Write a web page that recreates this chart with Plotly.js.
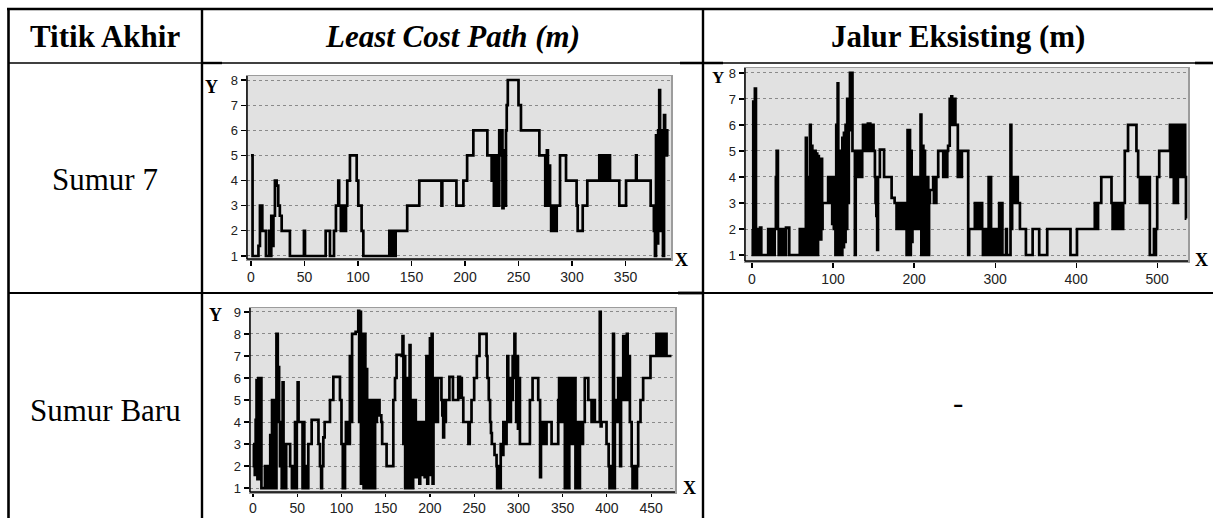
<!DOCTYPE html>
<html><head><meta charset="utf-8">
<script src="https://cdn.plot.ly/plotly-3.0.1.min.js"></script>
<style>html,body{margin:0;padding:0;background:#fff}#chart{width:1213px;height:518px}</style>
</head><body><div id="chart"></div>
<script>
// ---------- data (x = step position, y = value) ----------
const lcp7 = [[0,5],[1.5,1],[7,1.4],[8.4,3],[10.6,2],[14,1],[17,2],[18,1],[19,2.6],[20,1.4],[21,2.6],[22.4,4],[24,3.8],[25.5,3],[27,2.6],[28.7,2],[36.4,1],[49.5,2],[50.5,1],[69.8,2],[73.8,1],[77.6,2],[79.4,3],[81.6,4],[82.4,3],[84,2],[85,3],[86,2],[87,3],[88,2],[88.8,3],[90,4],[92.5,5],[98.8,4],[100.3,3],[103.4,2],[105,1],[129.3,2],[130,1],[131,2],[132,1],[133,2],[134,1],[135.2,2],[146,3],[157.3,4],[178,3],[178.8,4],[192,3],[198.5,4],[202,5],[207.8,6],[220.9,5],[224.9,4],[226,5],[227,3],[228,5],[229,3],[230,5],[231,3],[232,6],[233,5],[234.3,6],[235,2.9],[236,5.2],[237,3],[238.3,6],[239,7],[240,8],[250,7],[252.3,6],[269.5,5],[275,3],[276.5,5.2],[277.5,3],[278.5,4.6],[279.5,3],[280.5,2],[281.5,3],[282.5,2],[283.5,3],[284.5,2],[285.7,3],[288.8,5],[294.4,4],[304.3,3],[305.3,2],[310,3],[314.3,4],[325.5,5],[327,4],[328.5,5],[330,4],[331.5,5],[333,4],[334.5,5],[335.5,4],[344.2,3],[350.5,4],[359.8,5],[360.4,4],[373.5,3],[376.5,2],[377.5,1],[378.5,5.8],[379.5,1.5],[380.5,6],[381.5,7.6],[382.3,2],[383,6],[384,2],[385,1],[386,6.6],[387,5],[388,6],[389,5],[390,5]];

const jalur7 = [[0,2],[1,1],[1.6,6.9],[2.6,2],[3.6,7.4],[4.9,1],[6,2],[7,1],[8,2],[9,1],[10,2.05],[11.5,1],[20,2],[21,1],[22,2],[23,1],[24,2],[25,1],[26,2],[27,1],[28,2],[29.5,4],[30.5,5],[32,2],[33,1],[34,2],[35,1],[36,2],[37,1],[38,2],[39,1],[40,2],[41,1],[42,2.05],[46,1],[59,2],[60,1],[61,2],[62,1],[63,2],[64,1],[65,2],[66.5,5.5],[67.5,1],[68.5,4],[69.5,1],[70.5,2],[71.5,6],[72.5,1],[73.5,5.2],[74.5,1],[75.5,4],[76.5,1],[77.5,5],[78.5,1],[79.5,4.9],[80.5,1],[81.5,4.8],[82.5,1.6],[83.5,4.7],[84.5,1.6],[85.5,4.7],[86.5,2],[87.1,3],[94,4],[95,3],[96,4],[97,3],[98.3,4],[99,2.2],[100,4],[101,2],[102,4],[103,1],[104,6],[105,1],[105.7,7.6],[106.5,1],[107.5,5],[108.5,1.3],[109.5,5],[110.5,1],[111.5,5.5],[112.5,1.3],[113.5,5.7],[114.5,1.5],[115.5,6],[116.8,2],[117.5,7],[118.5,3],[119.5,6],[120.9,8],[122,5.8],[123,8],[124,5],[127,1],[128,5],[129,4],[130,5],[131,4],[132,5],[133,4],[134,5],[135,4],[136,5],[137,6],[138,5],[139,6],[140,5],[141,6],[142,5],[143,6.05],[146,5],[147,6],[148,5],[149,6],[150,5],[151.7,4],[152.5,3],[153.5,2.5],[154.5,1.2],[155.5,4],[157.8,5.05],[163,4],[172.3,3.2],[176,3],[178.4,2],[179.5,3],[180.5,2],[181.5,3],[182.5,2],[183.5,3],[184.5,2],[185.5,3],[186.5,2],[187.5,3],[188.5,2],[189.5,3],[190.8,1],[192,5.8],[193,1],[194,5.8],[195,1],[196,5],[197,1.5],[198,3],[199,2],[200,4],[201,2],[202,3],[203,4],[204,2],[205,3],[206,4],[207,2],[208,6.4],[209,1],[210.5,5.2],[211.5,1],[212.5,5],[213.5,1],[214.5,4],[215.5,1],[216.5,4],[217.5,1],[218.5,3],[219.5,3.5],[223.6,4],[224.5,3],[225.5,4],[226.5,3],[227.5,4],[229.8,5],[236,4],[237,5],[238,4],[239,5],[240,4],[241,5],[242,5.2],[244,7],[245,6],[246,7.1],[247,6],[248,7],[249,6],[250,7],[251,6],[254,4],[255,5],[256,4],[257,5],[258,4],[259,5],[266.8,1],[268,2],[275,3],[276,2],[277,3],[278,2],[279,3],[280,2],[281,3],[282,2],[283,3],[284,2],[285,1],[286,2],[287,1],[288,2],[289,1],[290,2],[291,1],[292,4],[293,2],[294,4],[295,1],[296,2],[297,1],[298,2],[299,1],[300,2],[301,1],[302,2],[303,1],[304,2],[305,3],[306,1],[308,3],[309,1],[313.5,2],[314.5,1],[319,6],[320,2],[321,4],[322,3],[323,4],[324,3],[325,4],[326,3],[327,4],[328,3],[330.6,2],[338,1],[346.3,2],[354.4,1],[364.3,2],[393,1],[401,2],[423,3],[424,2],[425,3],[426,2],[427,3],[431,4],[443.6,3],[445,2],[446,3],[447,2],[448,3],[449,2],[450,3],[451,2],[452,3],[453,2],[454,3],[455,2],[456,3],[457,2],[458,3],[460,5],[464,6],[474.4,5],[476.5,4],[478.6,3],[479.5,4],[480.5,3],[481.5,4],[482.7,3],[483.5,4],[484.5,3],[485.5,4],[486.5,3],[487.5,4],[488.5,3],[489.5,4],[490.9,1],[496,2],[497,1],[498.4,2],[500,4],[502.5,5],[515.7,6],[516.5,4],[517.5,6],[518.5,4],[519.5,6],[520.5,3],[521.5,6],[522.5,4],[523.5,6],[524.5,3],[525.5,6],[526.5,4],[527.5,6],[528.5,5],[529.5,6],[530.5,4],[531.5,6],[532.5,5],[533.5,6],[534.5,4],[535.5,2.4],[536,2.4]];

const lcpBaru = [[0,3],[1,2],[2,1.6],[3,4.1],[4,5.9],[5,1.4],[6,6],[7,1.4],[8,6],[9.5,1],[13.5,2],[14.5,1],[15.5,2],[16.5,1],[17.5,2],[18.5,1],[19.5,3.4],[20.5,1],[21.5,5],[22.5,1],[23.5,5],[24.5,3.8],[25.5,1],[26.5,8],[28,6.5],[29.5,4],[30.5,2],[31.5,4],[32.5,1],[33.5,5.8],[34.5,1],[35.5,3],[36.5,1],[37.5,3],[42,2],[44,1],[45,2],[46,1],[47.5,4],[48.5,1],[49.5,4],[50.5,5.8],[51.5,4],[56,1],[57,4],[58,1],[59,2],[61,1],[62.5,3],[66.3,4.1],[74,3],[75.7,2],[77,1],[78,2],[79.5,3.3],[81,4],[87,5],[90.8,6.05],[98.3,5],[100,3],[101.5,1],[104,3],[105,4],[106,3],[107,4],[108,3],[109.5,7],[111,4],[112,8],[116,8.1],[119,9.05],[120,4],[121,9],[122,1.2],[123,8],[124,6.4],[125,1],[126,8],[127,2],[128,6.4],[129,1],[130,5],[131,2],[132,5],[133,1],[134,4],[135,2],[136,5],[137,1],[138,4],[140,5],[143,4.3],[145,4],[146,3],[151,2],[158.6,5],[160.5,6],[162.3,7.05],[168,7],[169,7.9],[170,3],[171,7],[172,1],[173,6],[174,2],[175,5],[176,1],[177,7.5],[178,2],[179,5],[180,1],[181,4],[182,2],[183,5],[184,1.5],[185,4],[186,2],[187,3],[188,1.2],[189,4],[190,2],[191,4],[192,1.6],[193,3],[194,1.5],[195,4],[196,7],[197,1.2],[198,5.4],[199,2],[200,7.8],[201,1.6],[202,8],[203,1.2],[204,4],[205,6],[206,4],[207,5],[208,4],[209,6],[213,5],[214,4.3],[215,3.3],[216,5],[217,4],[218,5],[222,6.05],[226,5],[232,6.05],[234,5.1],[235,6],[236,5.1],[237.7,4],[243.5,3],[245,4],[247,5],[250,6],[253,7],[256,8],[264,7],[265,6],[266.5,5],[268,4],[269,3.5],[270,3],[273,2.5],[275.3,2],[276,1],[278,2],[279,1],[280,3],[282,2.5],[283,4],[285,3],[286.6,4],[287.5,7],[288.5,4],[289.5,5],[290.5,4],[291.5,6],[292.5,5],[293.5,7],[294.5,6],[295.5,8],[296.5,7],[297.5,4],[298.5,7],[299.5,3.7],[300.5,6],[301.7,3],[313,5],[316,6],[322.4,5],[324.5,1.5],[325.5,3.5],[326.5,3],[327.5,4],[328.5,3],[329.5,4],[330.5,3],[331.8,4],[337.5,3],[345,5],[346,6],[347,4],[348,6],[349,5],[350,6],[351,4],[352.5,1],[353.5,6],[354.5,2],[355.5,5],[356.5,1],[357.5,6],[358.5,3],[359.5,6],[360.5,3],[361.5,6],[362.5,4],[363.5,6],[364.5,1],[365.5,4],[366.5,2],[367.5,4],[368.5,1],[369.5,3],[370.5,4],[371.4,3],[373,4],[375,6],[379,5],[382.7,4],[383.5,5],[384.5,4],[385.5,5],[386.4,4],[392,9],[393,3.8],[394,4],[399.6,3],[402,2],[403,1],[404,2],[405,1],[407,8],[408,1],[409,4],[410,5],[411,4],[412,5],[412.8,6],[415,2],[416,6],[417,5],[418.5,7.9],[419.5,5],[420.5,7],[421.5,5],[422.5,8],[423.5,5],[424.5,7],[426,4],[428,2],[429,1],[430,2],[431,1],[432,2],[433,1],[434,2],[435.4,4],[438,5],[441,6],[449.3,7],[456,8],[457,7],[458,8],[459,7],[460,8],[461,7],[462,8],[463,7],[464,8],[465,7],[466,8],[467.4,7],[473,7]];

const xTicks1 = [0,50,100,150,200,250,300,350];
const xTicks2 = [0,100,200,300,400,500];
const xTicks3 = [0,50,100,150,200,250,300,350,400,450];
const yTicks1 = [1,2,3,4,5,6,7,8];
const yTicks3 = [1,2,3,4,5,6,7,8,9];

const headers = ['Titik Akhir','Least Cost Path (m)','Jalur Eksisting (m)'];
const rowLabels = ['Sumur 7','Sumur Baru'];
const emptyCell = '-';

// ---------- layout helpers ----------
const W = 1213, H = 518;
const px = v => v / W;
const py = v => 1 - v / H;

function trace(data, xa, ya){
  return {x: data.map(d=>d[0]), y: data.map(d=>d[1]), xaxis: xa, yaxis: ya,
    mode:'lines', line:{shape:'hv', color:'#000', width:2.7}, hoverinfo:'skip', showlegend:false};
}
function xAxis(l, r, range, ticks, anchor, tlen){
  return {domain:[px(l), px(r)], range:range, tickvals:ticks, anchor:anchor,
    showline:true, mirror:true, linecolor:'#9c9c9c', linewidth:1.5,
    ticks:'outside', ticklen:tlen, tickwidth:1.2, tickcolor:'#000',
    tickfont:{family:'Liberation Sans, Arial, sans-serif', size:14, color:'#222'},
    showgrid:false, zeroline:false, fixedrange:true};
}
function yAxis(t, b, range, ticks, anchor){
  return {domain:[py(b), py(t)], range:range, tickvals:ticks, anchor:anchor,
    showline:true, mirror:true, linecolor:'#9c9c9c', linewidth:1.5,
    ticks:'outside', ticklen:5, tickwidth:1.2, tickcolor:'#000',
    tickfont:{family:'Liberation Sans, Arial, sans-serif', size:13, color:'#222'},
    showgrid:true, gridcolor:'#8a8a8a', griddash:'dot', gridwidth:1,
    zeroline:false, fixedrange:true};
}

const traces = [trace(lcp7,'x','y'), trace(jalur7,'x2','y2'), trace(lcpBaru,'x3','y3')];

// table lines
function hline(y, x0, x1, w){ return {type:'line', xref:'paper', yref:'paper', x0:px(x0), x1:px(x1), y0:py(y), y1:py(y), line:{color:'#000', width:w}}; }
function vline(x, y0, y1, w){ return {type:'line', xref:'paper', yref:'paper', x0:px(x), x1:px(x), y0:py(y0), y1:py(y1), line:{color:'#000', width:w}}; }
function axisEdge(xa, ya){
  return [
    {type:'line', xref:xa+' domain', yref:ya+' domain', x0:0, x1:0, y0:0, y1:1, line:{color:'#000', width:1.5}},
    {type:'line', xref:xa+' domain', yref:ya+' domain', x0:0, x1:1, y0:0, y1:0, line:{color:'#000', width:1.5}}
  ];
}
const shapes = [
  hline(9, 7, 1213, 2.6),
  hline(63, 8, 1213, 1.6),
  hline(63, 202, 222, 2.4), hline(63, 680, 723, 2.6), hline(63, 1195, 1213, 2.6),
  hline(293, 8, 1213, 2.2),
  hline(293, 678, 703, 2.8),
  vline(8.5, 8, 518, 2.6),
  vline(202, 8, 518, 2.4),
  vline(703, 8, 518, 2.4)
].concat(axisEdge('x','y'), axisEdge('x2','y2'), axisEdge('x3','y3'));

const serif = 'Liberation Serif, Times New Roman, serif';
function ann(text, x, y, size){
  return {text:text, x:px(x), y:py(y), xref:'paper', yref:'paper', showarrow:false,
    xanchor:'center', yanchor:'middle', font:{family:serif, size:size, color:'#000'}};
}
const annotations = [
  ann('<b>'+headers[0]+'</b>', 105, 37, 31),
  ann('<b><i>'+headers[1]+'</i></b>', 452.5, 37, 31),
  ann('<b>'+headers[2]+'</b>', 958, 37, 31),
  ann(rowLabels[0], 105, 180, 31),
  ann(rowLabels[1], 105, 410, 31),
  ann(emptyCell, 958, 402, 31),
  ann('<b>Y</b>', 211, 87, 18),
  ann('<b>X</b>', 681, 260, 18),
  ann('<b>Y</b>', 718, 77, 17),
  ann('<b>X</b>', 1201, 260, 18),
  ann('<b>Y</b>', 215, 315, 18),
  ann('<b>X</b>', 689, 488, 18)
];

const layout = {
  width: W, height: H, margin:{l:0, r:0, t:0, b:0, pad:0},
  paper_bgcolor:'#ffffff', plot_bgcolor:'#e1e1e1', showlegend:false,
  xaxis:  xAxis(247, 671, [-3.7, 392.5], xTicks1, 'y', 5),
  yaxis:  yAxis(76, 259, [0.88, 8.16], yTicks1, 'x'),
  xaxis2: xAxis(745, 1188, [-8.6, 538], xTicks2, 'y2', 5),
  yaxis2: yAxis(68, 261, [0.77, 8.19], yTicks1, 'x2'),
  xaxis3: xAxis(250, 675, [-3.4, 477], xTicks3, 'y3', 3),
  yaxis3: yAxis(308, 492, [0.82, 9.18], yTicks3, 'x3'),
  shapes: shapes, annotations: annotations
};

Plotly.newPlot('chart', traces, layout, {staticPlot:true, displayModeBar:false});
</script></body></html>
